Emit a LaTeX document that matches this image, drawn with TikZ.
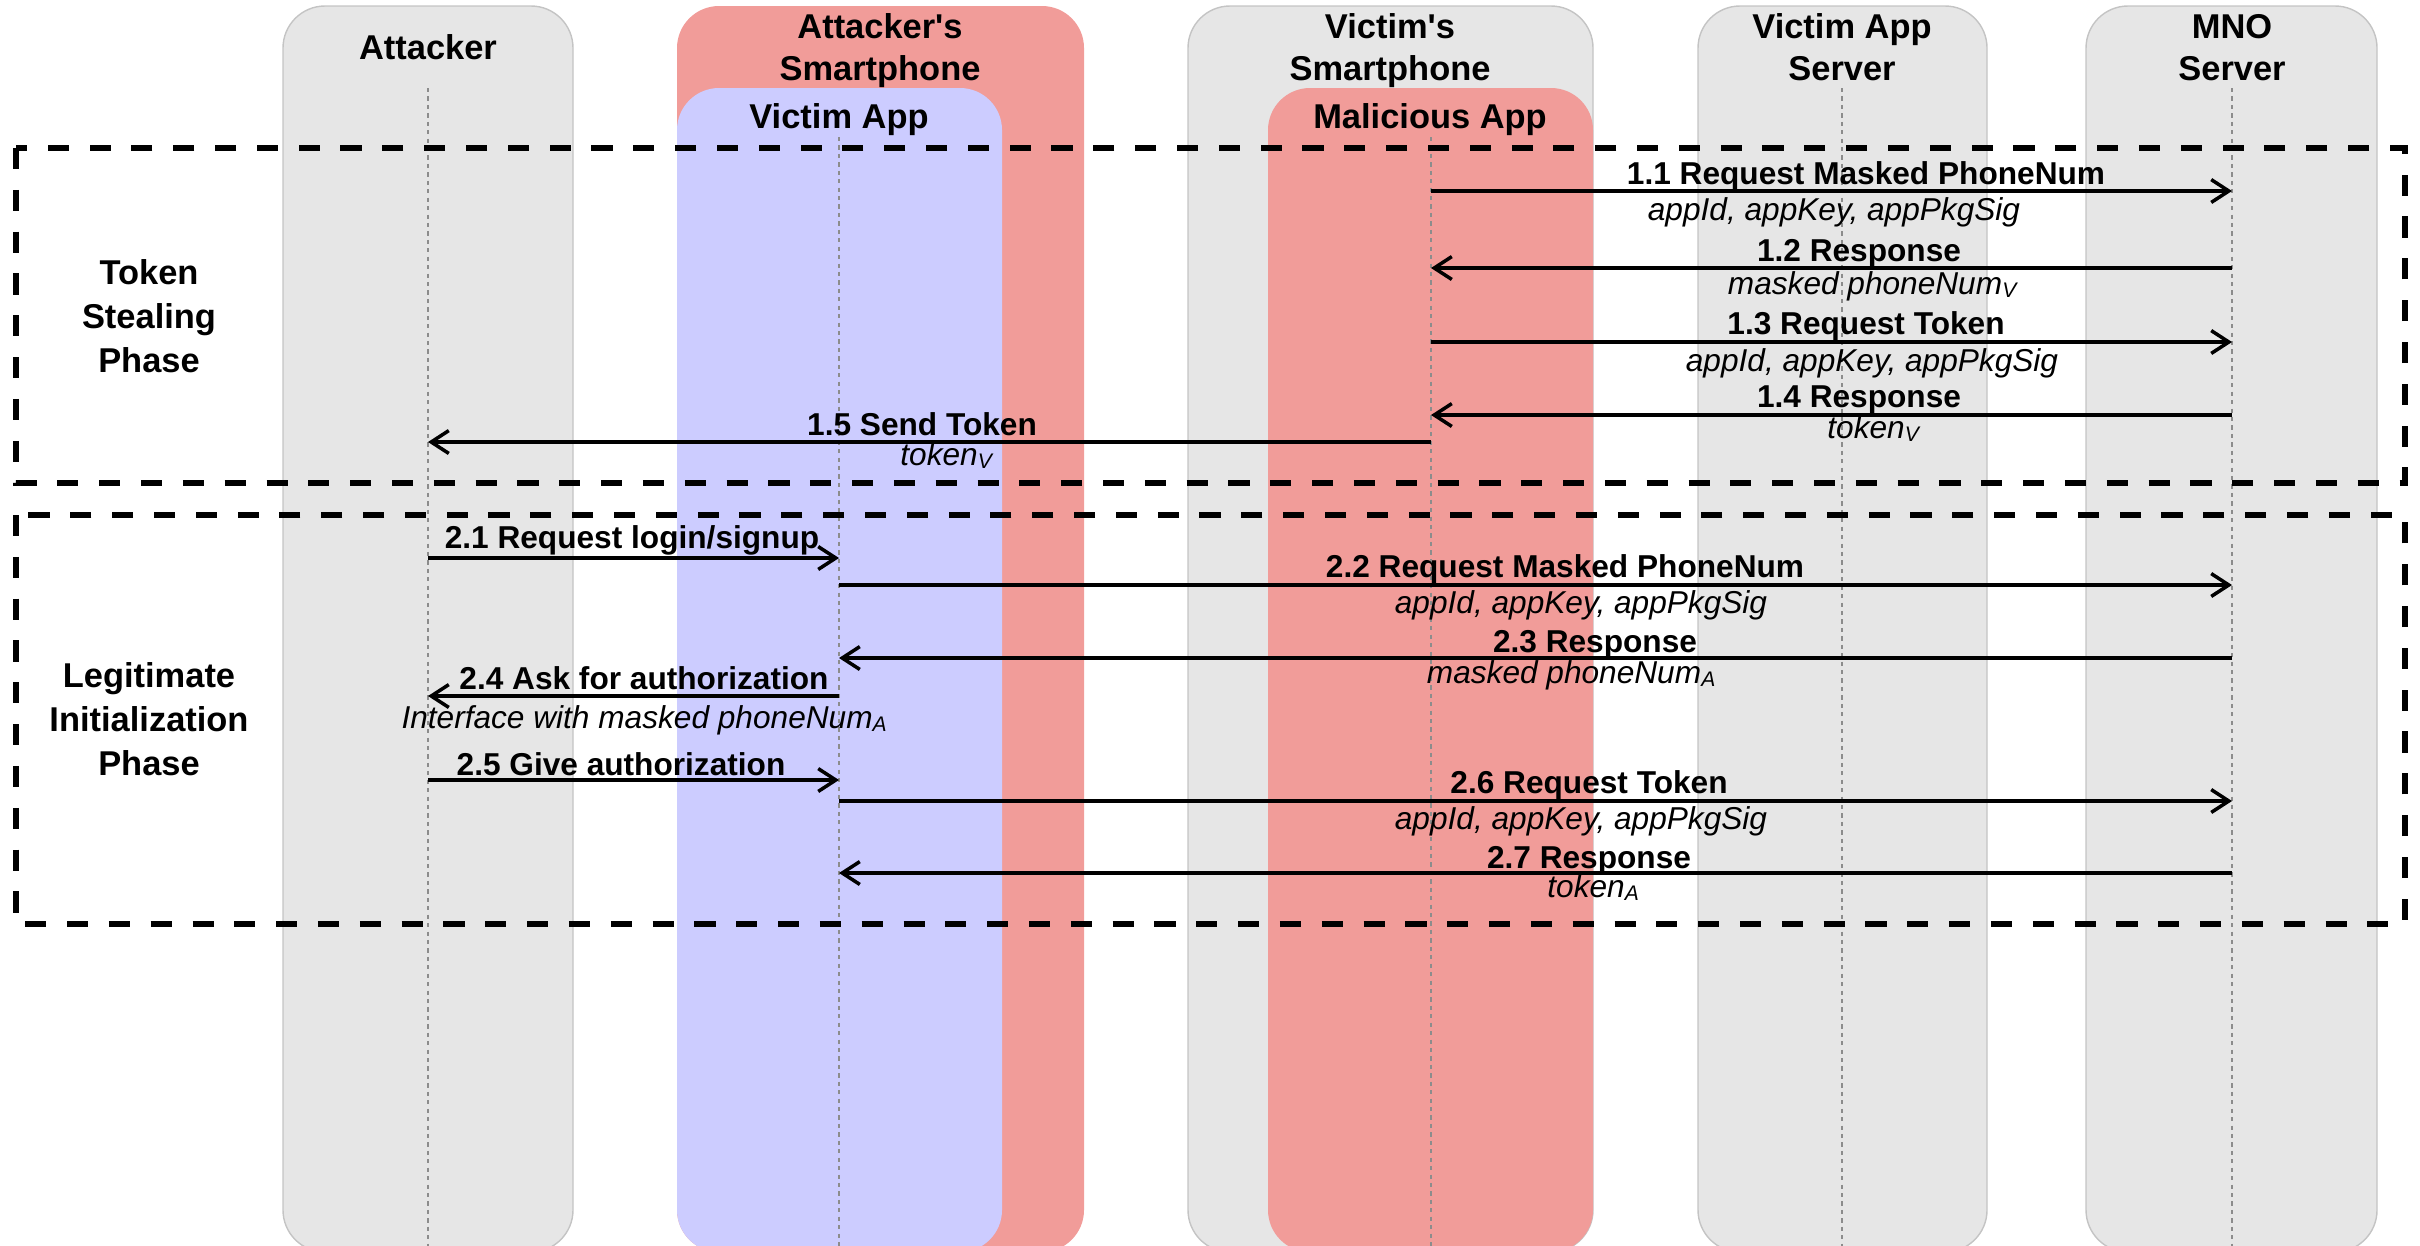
\documentclass[tikz,border=0pt]{standalone}
\usepackage{fontspec}
\setmainfont{Liberation Sans}
\usetikzlibrary{arrows.meta}
\definecolor{lanegray}{HTML}{E6E6E6}
\definecolor{laneedge}{HTML}{C4C4C4}
\definecolor{phonered}{HTML}{F19C99}
\definecolor{appblue}{HTML}{CCCCFF}
\definecolor{lifegray}{HTML}{8C8C8C}

\begin{document}
\begin{tikzpicture}[x=0.1mm, y=-0.1mm,
  lane/.style={draw=laneedge, line width=0.4pt, fill=lanegray, rounded corners=4.2mm},
  redlane/.style={fill=phonered, rounded corners=4.2mm},
  bluelane/.style={fill=appblue, rounded corners=4.2mm},
  head/.style={font=\bfseries\fontsize{9.8}{11.9}\selectfont, align=center, anchor=base, inner sep=0pt},
  phase/.style={font=\bfseries\fontsize{9.8}{12.4}\selectfont, align=center, anchor=base, inner sep=0pt},
  lifeline/.style={draw=lifegray, line width=0.35pt, dash pattern=on 1.2pt off 1.2pt},
  phasebox/.style={draw=black, line width=1.7pt, dash pattern=on 6pt off 5.9pt},
  msg/.style={draw=black, line width=1pt, -{Straight Barb[length=5pt,width=6.5pt]}},
  op/.style={font=\bfseries\fontsize{9}{10.8}\selectfont, anchor=base, inner sep=0pt},
  arg/.style={font=\itshape\fontsize{9}{10.8}\selectfont, anchor=base, inner sep=0pt},
]
\useasboundingbox (0,0) rectangle (2420,1245);

% swim lanes
\draw[lane] (283,6) rectangle (573,1252);
\fill[redlane] (677,6) rectangle (1084,1252);
\fill[bluelane] (677,88) rectangle (1002,1252);
\draw[lane] (1188,6) rectangle (1593,1252);
\fill[redlane] (1268,88) rectangle (1593,1252);
\draw[lane] (1698,6) rectangle (1987,1252);
\draw[lane] (2086,6) rectangle (2377,1252);

% lane headers (anchored at the baseline of the last line)
\node[head] (hAtt)  at (428,59)   {Attacker};
\node[head] (hAS)   at (880,80)   {Attacker\textquotesingle s\\Smartphone};
\node[head] (hVA)   at (839,128)  {Victim App};
\node[head] (hVS)   at (1390,80)  {Victim\textquotesingle s\\Smartphone};
\node[head] (hMA)   at (1430,128) {Malicious App};
\node[head] (hVAS)  at (1842,80)  {Victim App\\Server};
\node[head] (hMNO)  at (2232,80)  {MNO\\Server};

% lifelines
\coordinate (Latt) at (428,88);
\coordinate (Lva)  at (839,137);
\coordinate (Lmal) at (1431,137);
\coordinate (Lvas) at (1842,88);
\coordinate (Lmno) at (2232,88);
\foreach \l in {Latt,Lva,Lmal,Lvas,Lmno}
  \draw[lifeline] (\l) -- (\l |- 0,1250);

% phase frames
\draw[phasebox] (16,148) rectangle (2405,483);
\draw[phasebox] (16,515) rectangle (2405,924);
\node[phase] (pTok) at (149,372) {Token\\Stealing\\Phase};
\node[phase] (pLeg) at (149,775) {Legitimate\\Initialization\\Phase};

% token stealing phase
\draw[msg] (Lmal |- 0,191) -- (Lmno |- 0,191);
\node[op]  at (1866,184) {1.1 Request Masked PhoneNum};
\node[arg] at (1834,220) {appId, appKey, appPkgSig};

\draw[msg] (Lmno |- 0,268) -- (Lmal |- 0,268);
\node[op]  at (1859,261) {1.2 Response};
\node[arg] at (1873,294) {masked phoneNum\textsubscript{V}};

\draw[msg] (Lmal |- 0,342) -- (Lmno |- 0,342);
\node[op]  at (1866,334) {1.3 Request Token};
\node[arg] at (1872,371) {appId, appKey, appPkgSig};

\draw[msg] (Lmno |- 0,415) -- (Lmal |- 0,415);
\node[op]  at (1859,407) {1.4 Response};
\node[arg] at (1874,438) {token\textsubscript{V}};

\draw[msg] (Lmal |- 0,442) -- (Latt |- 0,442);
\node[op]  at (922,435) {1.5 Send Token};
\node[arg] at (947,465) {token\textsubscript{V}};

% legitimate initialization phase
\draw[msg] (Latt |- 0,558) -- (Lva |- 0,558);
\node[op]  at (632,548) {2.1 Request login/signup};

\draw[msg] (Lva |- 0,585) -- (Lmno |- 0,585);
\node[op]  at (1565,577) {2.2 Request Masked PhoneNum};
\node[arg] at (1581,613) {appId, appKey, appPkgSig};

\draw[msg] (Lmno |- 0,658) -- (Lva |- 0,658);
\node[op]  at (1595,652) {2.3 Response};
\node[arg] at (1572,683) {masked phoneNum\textsubscript{A}};

\draw[msg] (Lva |- 0,696) -- (Latt |- 0,696);
\node[op]  at (644,689) {2.4 Ask for authorization};
\node[arg] at (645,728) {Interface with masked phoneNum\textsubscript{A}};

\draw[msg] (Latt |- 0,780) -- (Lva |- 0,780);
\node[op]  at (621,775) {2.5 Give authorization};

\draw[msg] (Lva |- 0,801) -- (Lmno |- 0,801);
\node[op]  at (1589,793) {2.6 Request Token};
\node[arg] at (1581,829) {appId, appKey, appPkgSig};

\draw[msg] (Lmno |- 0,873) -- (Lva |- 0,873);
\node[op]  at (1589,868) {2.7 Response};
\node[arg] at (1594,897) {token\textsubscript{A}};
\end{tikzpicture}
\end{document}
